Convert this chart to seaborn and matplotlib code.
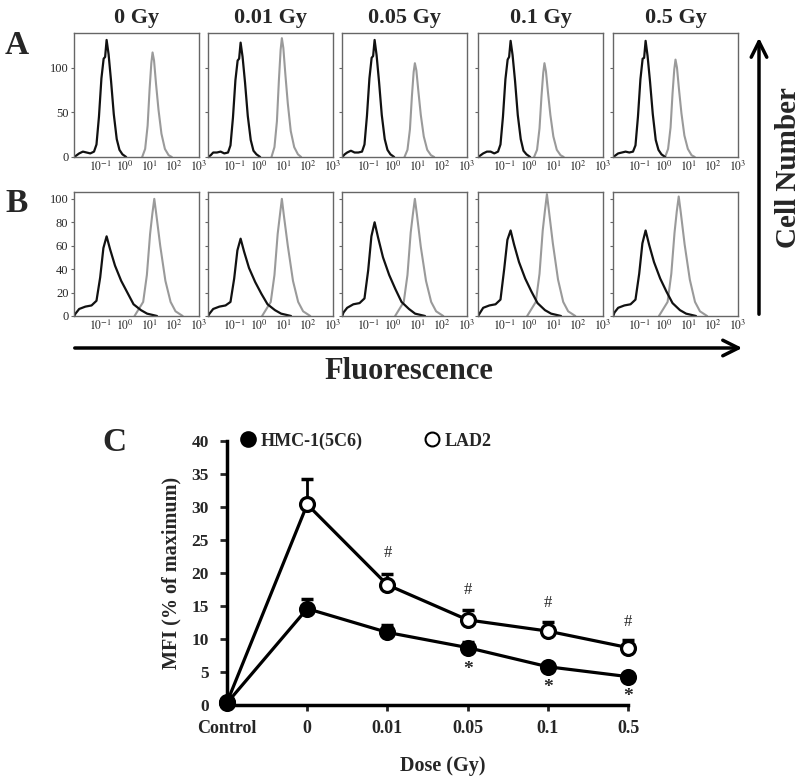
import matplotlib
matplotlib.use("Agg")
import matplotlib.pyplot as plt
import seaborn as sns
from matplotlib.lines import Line2D

# ---- data ----
doses = ["0 Gy", "0.01 Gy", "0.05 Gy", "0.1 Gy", "0.5 Gy"]
decades = [-1, 0, 1, 2, 3]

# row A: log10 fluorescence vs cell number
a_black_x = [-2.05, -1.95, -1.85, -1.7, -1.55, -1.4, -1.25, -1.15, -1.05, -0.95,
             -0.86, -0.8, -0.74, -0.66, -0.56, -0.45, -0.33, -0.22, -0.1, 0.05]
a_black_y = [
    [0, 2, 4, 6, 5, 4, 6, 14, 45, 88, 110, 112, 131, 115, 85, 48, 20, 8, 3, 0],
    [0, 2, 5, 5, 6, 4, 5, 13, 44, 86, 108, 110, 128, 112, 83, 46, 19, 7, 3, 0],
    [0, 3, 5, 7, 5, 5, 6, 14, 46, 88, 111, 113, 131, 114, 84, 47, 20, 8, 3, 0],
    [0, 2, 4, 6, 6, 4, 6, 14, 45, 87, 109, 112, 130, 114, 85, 47, 20, 7, 3, 0],
    [0, 2, 4, 5, 6, 5, 6, 13, 45, 87, 110, 111, 130, 113, 84, 48, 19, 8, 3, 0],
]
a_gray_x = [
    [0.70, 0.82, 0.92, 1.00, 1.07, 1.12, 1.18, 1.26, 1.36, 1.48, 1.62, 1.77, 1.90],
    [0.51, 0.63, 0.73, 0.81, 0.88, 0.93, 0.99, 1.07, 1.17, 1.29, 1.43, 1.58, 1.71],
    [0.47, 0.59, 0.69, 0.77, 0.84, 0.89, 0.95, 1.03, 1.13, 1.25, 1.39, 1.54, 1.67],
    [0.21, 0.33, 0.43, 0.51, 0.58, 0.63, 0.69, 0.77, 0.87, 0.99, 1.13, 1.28, 1.41],
    [0.05, 0.17, 0.27, 0.35, 0.42, 0.47, 0.53, 0.61, 0.71, 0.83, 0.97, 1.12, 1.25],
]
a_gray_y = [
    [0, 9, 35, 76, 105, 117, 108, 82, 53, 26, 9, 2, 0],
    [0, 11, 40, 86, 120, 133, 122, 93, 60, 29, 11, 3, 0],
    [0, 8, 31, 68, 95, 105, 97, 74, 47, 23, 8, 2, 0],
    [0, 8, 32, 68, 94, 105, 96, 73, 47, 23, 8, 2, 0],
    [0, 9, 33, 71, 98, 109, 100, 76, 49, 24, 9, 2, 0],
]

# row B
b_black_x = [-2.05, -2.0, -1.85, -1.6, -1.35, -1.15, -1.0, -0.87, -0.74, -0.6,
             -0.4, -0.15, 0.1, 0.35, 0.65, 0.9, 1.3]
b_black_y = [
    [0, 2, 6, 8, 9, 13, 33, 58, 68, 57, 43, 30, 20, 10, 5, 2, 0],
    [0, 2, 6, 8, 9, 12, 32, 56, 66, 55, 41, 29, 19, 10, 5, 2, 0],
    [0, 3, 7, 10, 11, 15, 39, 68, 80, 67, 50, 35, 23, 12, 6, 2, 0],
    [0, 2, 7, 9, 10, 14, 40, 65, 73, 61, 46, 32, 21, 11, 5, 2, 0],
    [0, 3, 7, 9, 10, 14, 36, 62, 73, 61, 46, 32, 21, 11, 5, 2, 0],
]
b_gray_x = [
    [0.39, 0.74, 0.89, 1.02, 1.11, 1.19, 1.27, 1.43, 1.64, 1.85, 2.05, 2.34],
    [0.13, 0.48, 0.63, 0.76, 0.85, 0.93, 1.01, 1.17, 1.38, 1.59, 1.79, 2.08],
    [0.09, 0.44, 0.59, 0.72, 0.81, 0.89, 0.97, 1.13, 1.34, 1.55, 1.75, 2.04],
    [-0.07, 0.28, 0.43, 0.56, 0.65, 0.73, 0.81, 0.97, 1.18, 1.39, 1.59, 1.88],
    [-0.20, 0.15, 0.30, 0.43, 0.52, 0.60, 0.68, 0.84, 1.05, 1.26, 1.46, 1.75],
]
b_gray_y = [
    [0, 12, 35, 70, 87, 100, 87, 60, 30, 12, 4, 0],
    [0, 12, 35, 70, 86, 100, 86, 60, 30, 12, 4, 0],
    [0, 12, 35, 71, 87, 100, 87, 59, 30, 12, 4, 0],
    [0, 12, 36, 73, 90, 104, 90, 62, 31, 12, 4, 0],
    [0, 12, 36, 71, 89, 102, 89, 61, 31, 12, 4, 0],
]

# panel C: MFI (% of maximum)
c_doses = ["Control", "0", "0.01", "0.05", "0.1", "0.5"]
hmc_mean = [0.3, 14.6, 11.0, 8.7, 5.8, 4.3]
hmc_err = [0, 1.4, 1.1, 0.9, 0.4, 0.3]
lad2_mean = [0.4, 30.4, 18.2, 12.9, 11.2, 8.7]
lad2_err = [0, 3.8, 1.6, 1.5, 1.4, 1.2]
hash_idx = [2, 3, 4, 5]
hash_y = [23.0, 17.4, 15.4, 12.6]
star_idx = [3, 4, 5]
star_y = [5.4, 2.6, 1.3]

sns.set_style("white")
plt.rcParams["font.family"] = ["Liberation Serif", "DejaVu Serif"]
plt.rcParams["mathtext.fontset"] = "stix"

fig = plt.figure(figsize=(8, 7.81), dpi=100)

col_left = [74, 208, 342, 478, 613]
rows = [
    (0.799, a_black_x, a_black_y, a_gray_x, a_gray_y, (0, 139), [0, 50, 100]),
    (0.5954, b_black_x, b_black_y, b_gray_x, b_gray_y, (0, 106), [0, 20, 40, 60, 80, 100]),
]
for r, (bottom, bx, by, gx, gy, ylim, yticks) in enumerate(rows):
    for c in range(5):
        ax = fig.add_axes([col_left[c] / 800, bottom, 125 / 800, 0.159])
        sns.lineplot(x=gx[c], y=gy[c], color="#9a9a9a", lw=1.5, ax=ax,
                     sort=False, estimator=None)
        sns.lineplot(x=bx, y=by[c], color="#111111", lw=1.6, ax=ax,
                     sort=False, estimator=None)
        ax.set_xlim(-2.06, 3)
        ax.set_ylim(*ylim)
        ax.set_xticks(decades)
        ax.set_xticklabels([f"$10^{{{d}}}$" for d in decades], fontsize=8.5)
        ax.set_yticks(yticks)
        if c == 0:
            ax.set_yticklabels([str(t) for t in yticks], fontsize=9)
        else:
            ax.set_yticklabels([])
        ax.tick_params(axis="x", length=0, pad=2)
        ax.tick_params(axis="y", length=2, width=0.8, color="#666", pad=2, left=True)
        for s in ax.spines.values():
            s.set_color("#666")
            s.set_linewidth(1)
        ax.set_xlabel("")
        ax.set_ylabel("")
        if r == 0:
            ax.set_title(doses[c], fontsize=16, fontweight="bold", pad=7)

fig.text(0.021, 0.942, "A", fontsize=24, fontweight="bold", ha="center", va="center")
fig.text(0.021, 0.740, "B", fontsize=24, fontweight="bold", ha="center", va="center")
fig.text(0.143, 0.433, "C", fontsize=24, fontweight="bold", ha="center", va="center")

fig.add_artist(matplotlib.patches.FancyArrowPatch(
    (72 / 800, 1 - 348 / 781), (745 / 800, 1 - 348 / 781), transform=fig.transFigure,
    arrowstyle="->", mutation_scale=28, lw=2.5, color="black"))
fig.add_artist(matplotlib.patches.FancyArrowPatch(
    (759 / 800, 1 - 317 / 781), (759 / 800, 1 - 35 / 781), transform=fig.transFigure,
    arrowstyle="->", mutation_scale=28, lw=2.5, color="black"))
fig.text(0.511, 0.524, "Fluorescence", fontsize=22, fontweight="bold",
         ha="center", va="center")
fig.text(0.985, 0.785, "Cell Number", fontsize=21, fontweight="bold",
         ha="center", va="center", rotation=90)

# ---- panel C ----
axc = fig.add_axes([227 / 800, 0.0973, 401 / 800, 0.338])
pos = list(range(len(c_doses)))
axc.errorbar(pos, lad2_mean, yerr=[[0] * 6, lad2_err], fmt="none", ecolor="black",
             elinewidth=2, capsize=4.5, capthick=2.5, zorder=2, clip_on=False)
axc.errorbar(pos, hmc_mean, yerr=[[0] * 6, hmc_err], fmt="none", ecolor="black",
             elinewidth=2, capsize=4.5, capthick=2.5, zorder=2, clip_on=False)
sns.lineplot(x=pos, y=lad2_mean, ax=axc, color="black", lw=2.3, marker="o",
             markersize=10, markerfacecolor="white", markeredgecolor="black",
             markeredgewidth=2.3, zorder=3, clip_on=False)
sns.lineplot(x=pos, y=hmc_mean, ax=axc, color="black", lw=2.3, marker="o",
             markersize=10, markerfacecolor="black", markeredgecolor="black",
             markeredgewidth=2.3, zorder=3, clip_on=False)
for i, y in zip(hash_idx, hash_y):
    axc.text(i, y, "#", ha="center", va="center", fontsize=12)
for i, y in zip(star_idx, star_y):
    axc.text(i, y, "*", ha="center", va="center", fontsize=14, fontweight="bold")

axc.set_xlim(0, 5)
axc.set_ylim(0, 40)
axc.set_yticks(range(0, 41, 5))
axc.set_xticks(pos)
axc.set_xticklabels(c_doses, fontsize=13, fontweight="bold")
for lbl in axc.get_yticklabels():
    lbl.set_fontweight("bold")
    lbl.set_fontsize(12.5)
axc.tick_params(axis="y", length=5, width=2, pad=8, left=True)
axc.tick_params(axis="x", length=4, width=2, pad=7, bottom=True)
sns.despine(ax=axc)
for s in ["left", "bottom"]:
    axc.spines[s].set_linewidth(2.5)
    axc.spines[s].set_color("black")
axc.set_ylabel("MFI (% of maximum)", fontsize=14.5, fontweight="bold", labelpad=7)
axc.set_xlabel("Dose (Gy)", fontsize=14.5, fontweight="bold")
axc.xaxis.set_label_coords(0.537, -0.195)

handles = [
    Line2D([], [], ls="none", marker="o", markersize=10, markerfacecolor="black",
           markeredgecolor="black", markeredgewidth=2),
    Line2D([], [], ls="none", marker="o", markersize=10, markerfacecolor="white",
           markeredgecolor="black", markeredgewidth=1.5),
]
axc.legend(handles, ["HMC-1(5C6)", "LAD2"], ncol=2, loc="center left",
           bbox_to_anchor=(0.035, 1.0), frameon=False, handlelength=0.8,
           handletextpad=0.3, columnspacing=3.4, borderaxespad=0, borderpad=0,
           prop={"weight": "bold", "size": 13})

fig.savefig("out.png", dpi=100)
